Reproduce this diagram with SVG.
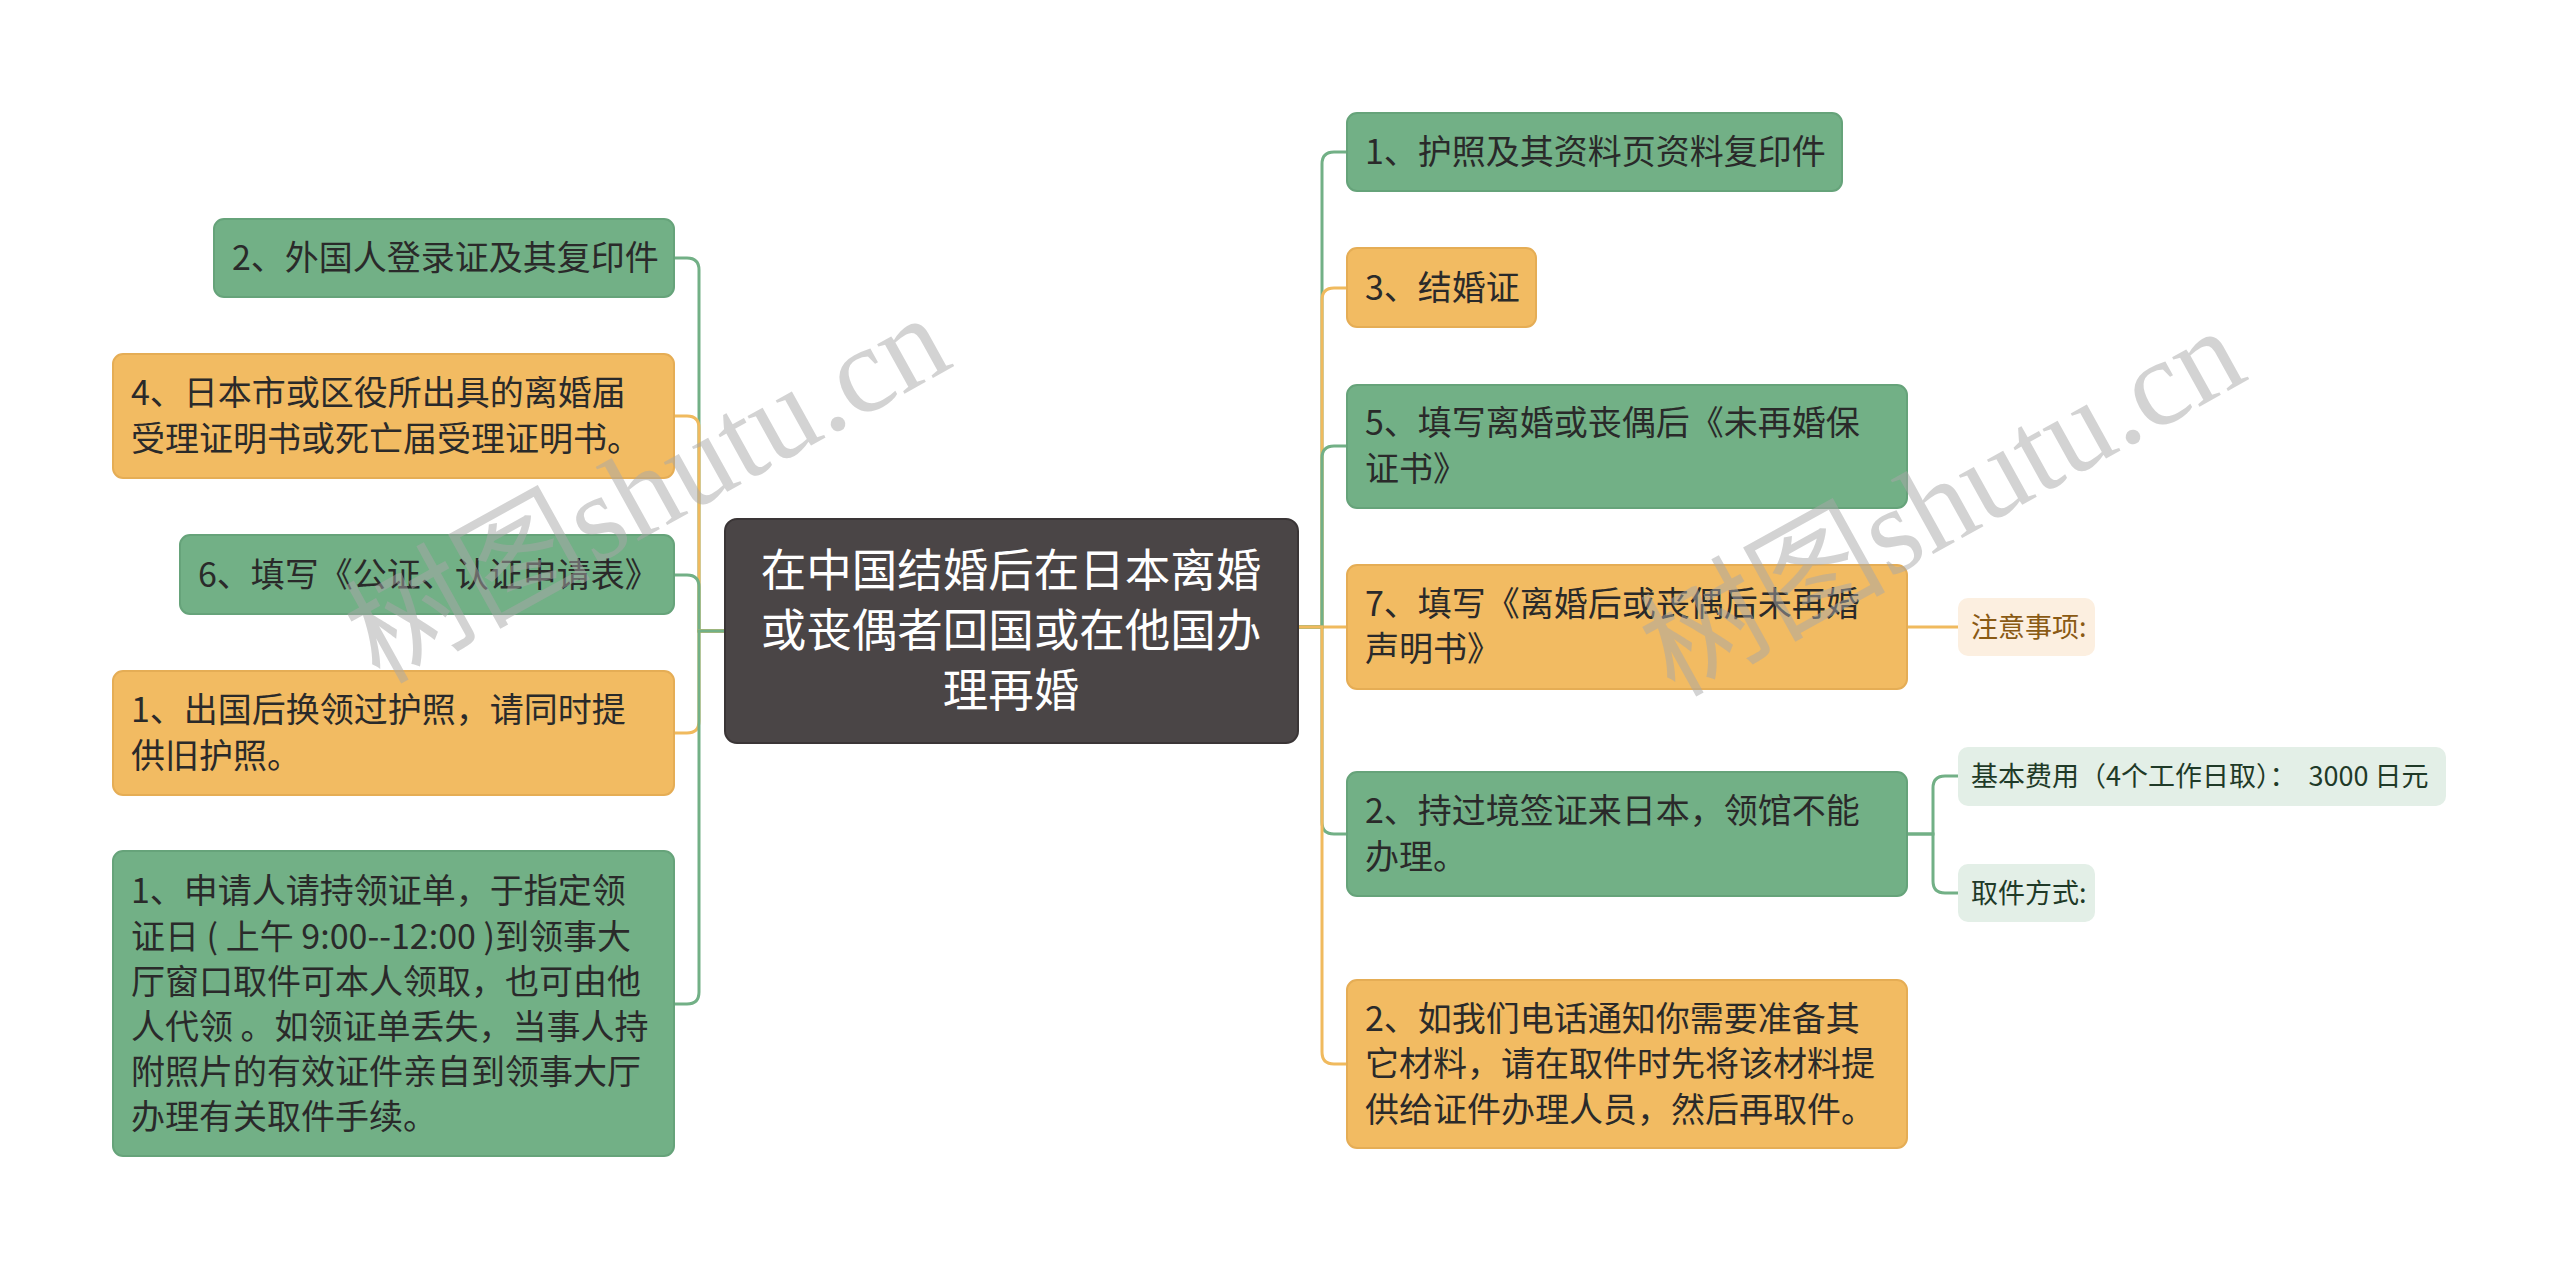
<svg xmlns="http://www.w3.org/2000/svg" width="2560" height="1271" viewBox="0 0 2560 1271">
<style>
.g{fill:#72B086;stroke:#66A37A;stroke-width:2}
.o{fill:#F2BB62;stroke:#E5AD55;stroke-width:2}
.c{fill:#4A4546;stroke:#3A3536;stroke-width:2}
.sg{fill:#E3EFE7}
.so{fill:#FCEFE0}
.t{font-family:"Noto Sans CJK SC","Noto Sans",sans-serif;font-size:34px;fill:#2A2A2A}
.tc{font-family:"Noto Sans CJK SC","Noto Sans",sans-serif;font-size:45.5px;fill:#FFFFFF;text-anchor:middle}
.ts{font-family:"Noto Sans CJK SC","Noto Sans",sans-serif;font-size:27px;fill:#1F3A28}
.tso{font-family:"Noto Sans CJK SC","Noto Sans",sans-serif;font-size:27px;fill:#8A5A14}
.lg{fill:none;stroke:#72B086;stroke-width:3}
.lo{fill:none;stroke:#F0BA5E;stroke-width:3}
.wm{font-family:"Liberation Serif","Noto Sans CJK SC",serif;font-size:123px;fill:#A8A8A8;opacity:0.5}
</style>
<rect width="2560" height="1271" fill="#FFFFFF"/>
<g id="connectors">
<path class="lg" d="M725 631 H699 V270 Q699 258 687 258 H674"/>
<path class="lo" d="M725 631 H699 V428 Q699 416 687 416 H674"/>
<path class="lg" d="M725 631 H699 V587 Q699 575 687 575 H674"/>
<path class="lo" d="M725 631 H699 V721 Q699 733 687 733 H674"/>
<path class="lg" d="M725 631 H699 V992 Q699 1004 687 1004 H674"/>
<path class="lg" d="M1298 627 H1322 V164 Q1322 152 1334 152 H1347"/>
<path class="lo" d="M1298 627 H1322 V300 Q1322 288 1334 288 H1347"/>
<path class="lg" d="M1298 627 H1322 V458 Q1322 446 1334 446 H1347"/>
<path class="lo" d="M1298 627 H1347"/>
<path class="lg" d="M1298 627 H1322 V822 Q1322 834 1334 834 H1347"/>
<path class="lo" d="M1298 627 H1322 V1052 Q1322 1064 1334 1064 H1347"/>
<path class="lo" d="M1907 627 H1958"/>
<path class="lg" d="M1907 834 H1933 V788 Q1933 776 1945 776 H1958"/>
<path class="lg" d="M1907 834 H1933 V881 Q1933 893 1945 893 H1958"/>
</g>
<g id="center">
<rect class="c" x="725" y="519" width="573" height="224" rx="12"/>
<text class="tc" x="1011" y="587">在中国结婚后在日本离婚</text>
<text class="tc" x="1011" y="647">或丧偶者回国或在他国办</text>
<text class="tc" x="1011" y="707">理再婚</text>
</g>
<g id="L1">
<rect class="g" x="214" y="219" width="460" height="78" rx="10"/>
<text class="t" x="232" y="270">2、外国人登录证及其复印件</text>
</g>
<g id="L2">
<rect class="o" x="113" y="354" width="561" height="124" rx="10"/>
<text class="t" x="131" y="405">4、日本市或区役所出具的离婚届</text>
<text class="t" x="131" y="451">受理证明书或死亡届受理证明书。</text>
</g>
<g id="L3">
<rect class="g" x="180" y="535" width="494" height="79" rx="10"/>
<text class="t" x="198" y="587">6、填写《公证、认证申请表》</text>
</g>
<g id="L4">
<rect class="o" x="113" y="671" width="561" height="124" rx="10"/>
<text class="t" x="131" y="722">1、出国后换领过护照，请同时提</text>
<text class="t" x="131" y="768">供旧护照。</text>
</g>
<g id="L5">
<rect class="g" x="113" y="851" width="561" height="305" rx="10"/>
<text class="t" x="131" y="903">1、申请人请持领证单，于指定领</text>
<text class="t" x="131" y="949">证日 ( 上午 9:00--12:00 )到领事大</text>
<text class="t" x="131" y="994">厅窗口取件可本人领取，也可由他</text>
<text class="t" x="131" y="1039">人代领 。如领证单丢失，当事人持</text>
<text class="t" x="131" y="1084">附照片的有效证件亲自到领事大厅</text>
<text class="t" x="131" y="1129">办理有关取件手续。</text>
</g>
<g id="R1">
<rect class="g" x="1347" y="113" width="495" height="78" rx="10"/>
<text class="t" x="1365" y="164">1、护照及其资料页资料复印件</text>
</g>
<g id="R2">
<rect class="o" x="1347" y="248" width="189" height="79" rx="10"/>
<text class="t" x="1365" y="300">3、结婚证</text>
</g>
<g id="R3">
<rect class="g" x="1347" y="385" width="560" height="123" rx="10"/>
<text class="t" x="1365" y="435">5、填写离婚或丧偶后《未再婚保</text>
<text class="t" x="1365" y="481">证书》</text>
</g>
<g id="R4">
<rect class="o" x="1347" y="565" width="560" height="124" rx="10"/>
<text class="t" x="1365" y="616">7、填写《离婚后或丧偶后未再婚</text>
<text class="t" x="1365" y="661">声明书》</text>
</g>
<g id="R5">
<rect class="g" x="1347" y="772" width="560" height="124" rx="10"/>
<text class="t" x="1365" y="823">2、持过境签证来日本，领馆不能</text>
<text class="t" x="1365" y="869">办理。</text>
</g>
<g id="R6">
<rect class="o" x="1347" y="980" width="560" height="168" rx="10"/>
<text class="t" x="1365" y="1031">2、如我们电话通知你需要准备其</text>
<text class="t" x="1365" y="1076">它材料，请在取件时先将该材料提</text>
<text class="t" x="1365" y="1122">供给证件办理人员，然后再取件。</text>
</g>
<g id="S1">
<rect class="so" x="1958" y="598" width="137" height="58" rx="10"/>
<text class="tso" x="1971" y="637">注意事项:</text>
</g>
<g id="S2">
<rect class="sg" x="1958" y="747" width="488" height="59" rx="10"/>
<text class="ts" x="1971" y="786">基本费用（4个工作日取）：&#160;&#160;3000 日元</text>
</g>
<g id="S3">
<rect class="sg" x="1958" y="864" width="137" height="58" rx="10"/>
<text class="ts" x="1971" y="903">取件方式:</text>
</g>
<g id="watermark">
<text class="wm" x="648" y="530" text-anchor="middle" transform="rotate(-29 648 490)">树图shutu.cn</text>
<text class="wm" x="1943" y="543" text-anchor="middle" transform="rotate(-29 1943 503)">树图shutu.cn</text>
</g>
</svg>
